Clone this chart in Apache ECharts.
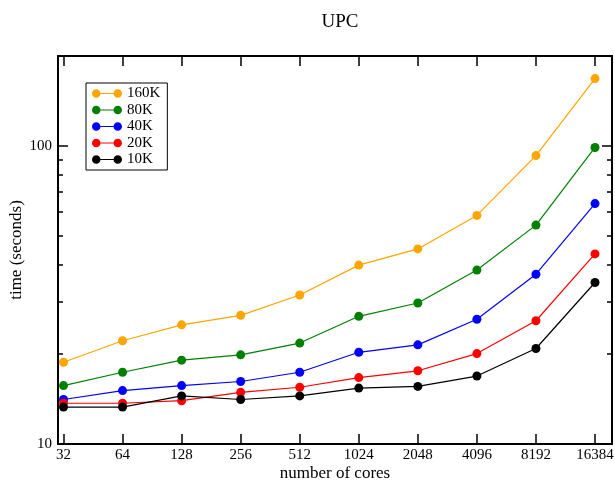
<!DOCTYPE html>
<html>
<head>
<meta charset="utf-8">
<title>UPC</title>
<script src="https://cdn.jsdelivr.net/npm/echarts@6/dist/echarts.min.js"></script>
<style>
  html, body { margin: 0; padding: 0; background: #fff; }
  #chart { width: 615px; height: 487px; }
</style>
</head>
<body>
<div id="chart"></div>
<script>
// 数据
const cores = [32, 64, 128, 256, 512, 1024, 2048, 4096, 8192, 16384]
const seriesNames = ['160K', '80K', '40K', '20K', '10K']
const colors = ['#ffa500', '#008000', '#0000ff', '#ff0000', '#000000']
const t160K = [18.8, 22.2, 25.1, 27.0, 31.6, 39.8, 45.1, 58.4, 92.7, 168]
const t80K = [15.7, 17.4, 19.1, 19.9, 21.8, 26.8, 29.7, 38.3, 54.2, 98.7]
const t40K = [14.1, 15.1, 15.7, 16.2, 17.4, 20.3, 21.5, 26.2, 37.1, 64.0]
const t20K = [13.7, 13.7, 13.97, 14.9, 15.5, 16.7, 17.6, 20.1, 25.9, 43.4]
const t10K = [13.3, 13.3, 14.5, 14.1, 14.5, 15.4, 15.6, 16.9, 20.9, 34.8]
const yMajorTicks = [10, 100]
const yMinorTicks = [20, 30, 40, 50, 60, 70, 80, 90, 200]

const font = 'Liberation Serif, Times New Roman, serif'
// 坐标轴按对数刻度: x 用 log2, y 用 log10
const lx = v => Math.log2(v)
const ly = v => Math.log10(v)
const xMin = lx(30), xMax = lx(20000)
const yMin = ly(10), yMax = ly(200)

const allData = [t160K, t80K, t40K, t20K, t10K]
const legendIcon = 'path://M0,4.25A4.25,4.25 0 1,0 8.5,4.25A4.25,4.25 0 1,0 0,4.25Z' +
  'M21.5,4.25A4.25,4.25 0 1,0 30,4.25A4.25,4.25 0 1,0 21.5,4.25Z' +
  'M8.5,3.7L21.5,3.7L21.5,4.8L8.5,4.8Z'

const rect = { left: 58, right: 3, top: 56, bottom: 43, outerBoundsMode: 'none', containLabel: false }
const lineAxis = { show: true, lineStyle: { color: '#000', width: 2 } }

const chart = echarts.init(document.getElementById('chart'))

const option = {
  animation: false,
  title: {
    text: 'UPC',
    left: 335,
    textAlign: 'center',
    top: 8,
    textStyle: { fontFamily: font, fontSize: 19, fontWeight: 'normal', color: '#000' }
  },
  legend: {
    orient: 'vertical',
    left: 86,
    top: 83,
    data: seriesNames,
    icon: legendIcon,
    itemWidth: 30,
    itemHeight: 8.5,
    itemGap: 1.5,
    padding: [3, 7, 3, 6],
    borderColor: '#000',
    borderWidth: 1,
    backgroundColor: '#fff',
    textStyle: { fontFamily: font, fontSize: 15, color: '#000', lineHeight: 15 }
  },
  grid: [
    Object.assign({}, rect),
    Object.assign({}, rect)
  ],
  xAxis: [
    {
      type: 'value', gridIndex: 0, position: 'bottom',
      min: xMin, max: xMax,
      name: 'number of cores', nameLocation: 'middle', nameGap: 21, nameMoveOverlap: false,
      nameTextStyle: { fontFamily: font, fontSize: 17, color: '#000' },
      axisLine: lineAxis,
      axisTick: { inside: true, length: 10, lineStyle: { color: '#000', width: 1.5 }, customValues: cores.map(lx) },
      axisLabel: {
        customValues: cores.map(lx), margin: 4,
        fontFamily: font, fontSize: 15, color: '#000',
        formatter: v => String(Math.round(Math.pow(2, v)))
      },
      splitLine: { show: false }
    },
    {
      type: 'value', gridIndex: 0, position: 'top',
      min: xMin, max: xMax,
      axisLine: lineAxis,
      axisTick: { inside: true, length: 10, lineStyle: { color: '#000', width: 1.5 }, customValues: cores.map(lx) },
      axisLabel: { show: false },
      splitLine: { show: false }
    },
    {
      type: 'value', gridIndex: 1, min: xMin, max: xMax, show: false
    }
  ],
  yAxis: [
    {
      type: 'value', gridIndex: 0, position: 'left',
      min: yMin, max: yMax,
      name: 'time (seconds)', nameLocation: 'middle', nameGap: 33, nameMoveOverlap: false,
      nameTextStyle: { fontFamily: font, fontSize: 17, color: '#000' },
      axisLine: lineAxis,
      axisTick: { inside: true, length: 10, lineStyle: { color: '#000', width: 1.5 }, customValues: yMajorTicks.map(ly) },
      axisLabel: {
        customValues: yMajorTicks.map(ly), margin: 6,
        fontFamily: font, fontSize: 15, color: '#000',
        formatter: v => String(Math.round(Math.pow(10, v)))
      },
      splitLine: { show: false }
    },
    {
      type: 'value', gridIndex: 0, position: 'right',
      min: yMin, max: yMax,
      axisLine: lineAxis,
      axisTick: { inside: true, length: 10, lineStyle: { color: '#000', width: 1.5 }, customValues: yMajorTicks.map(ly) },
      axisLabel: { show: false },
      splitLine: { show: false }
    },
    {
      type: 'value', gridIndex: 1, position: 'left',
      min: yMin, max: yMax,
      axisLine: lineAxis,
      axisTick: { inside: true, length: 5, lineStyle: { color: '#000', width: 1.5 }, customValues: yMinorTicks.map(ly) },
      axisLabel: { show: false },
      splitLine: { show: false }
    },
    {
      type: 'value', gridIndex: 1, position: 'right',
      min: yMin, max: yMax,
      axisLine: lineAxis,
      axisTick: { inside: true, length: 5, lineStyle: { color: '#000', width: 1.5 }, customValues: yMinorTicks.map(ly) },
      axisLabel: { show: false },
      splitLine: { show: false }
    }
  ],
  series: seriesNames.map((name, i) => ({
    name: name,
    type: 'line',
    xAxisIndex: 0,
    yAxisIndex: 0,
    data: cores.map((c, j) => [lx(c), ly(allData[i][j])]),
    symbol: 'circle',
    symbolSize: 9,
    color: colors[i],
    itemStyle: { color: colors[i] },
    lineStyle: { color: colors[i], width: 1.2 },
    z: 2 + i
  }))
}

chart.setOption(option)
</script>
</body>
</html>
